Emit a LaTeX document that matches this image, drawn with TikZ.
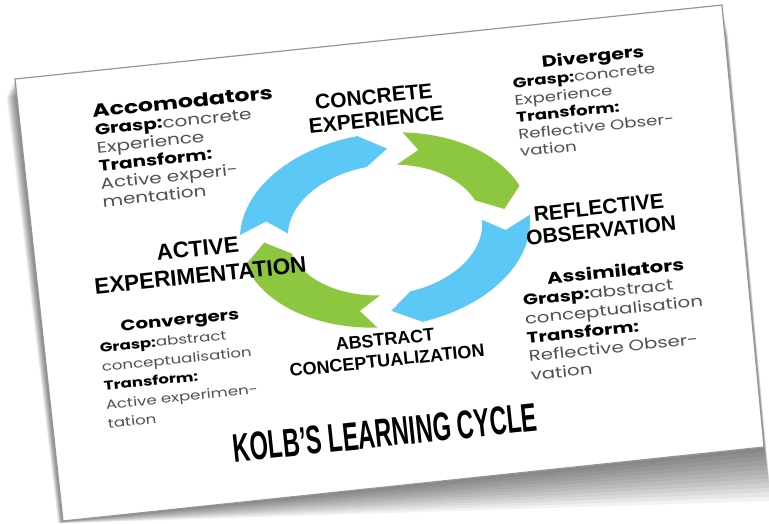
\documentclass[tikz,border=0pt]{standalone}
\usepackage{fontspec}
\setmainfont{Liberation Sans}
\newfontfamily\labfont{Liberation Sans}
\newfontfamily\titlefont{Liberation Sans}[FakeStretch=0.59]
\newfontfamily\geofont{Poppins}[FakeStretch=1.3]
\definecolor{ringblue}{RGB}{92,200,245}
\definecolor{ringgreen}{RGB}{141,198,63}
\definecolor{cardline}{RGB}{150,150,150}
\definecolor{bodygray}{RGB}{80,80,80}
\newcommand\ringseg[3]{%
  \fill[#1] ({#2-3}:97) arc[start angle={#2-3}, end angle={#3+15}, radius=97]
    -- ({#3+3}:81) -- ({#3+15}:65)
    arc[start angle={#3+15}, end angle={#2-3}, radius=65]
    -- ({#2-12}:81) -- cycle;}
\newcommand\bhead[3]{\makebox[#1][c]{\fontsize{#2}{18}\selectfont\bfseries\color{black}#3}}
\newcommand\bl[1]{\textbf{\color{black}#1}}
\tikzset{
  cyclelabel/.style={font=\labfont\bfseries\fontsize{21}{23}\selectfont, text=black, align=center, inner sep=0, rotate=6},
  block/.style={text=bodygray, align=left, inner sep=0, anchor=north west, rotate=6},
}
\begin{document}
\begin{tikzpicture}[x=1pt, y=-1pt]
\useasboundingbox (0,0) rectangle (769,523);
% shadow
\foreach \k in {1,...,12}{
  \fill[black, opacity=0.05] ({15-0.7*\k},{79+1.5*\k}) -- ({722+0.5*\k},{5+2.5*\k}) -- ({764+0.6*\k},{447+4.5*\k}) -- ({63-0.4*\k},{521+0.2*\k}) -- cycle;
}
% card
\draw[cardline, line width=1.2pt, fill=white] (15,79) coordinate (tl) -- (722,5) coordinate (tr) -- (764,447) coordinate (br) -- (63,521) coordinate (bl) -- cycle;
% ring
\begin{scope}[shift={(385,230)}, y=1pt, rotate=6, xscale=1.5]
  \ringseg{ringgreen}{82}{3}
  \ringseg{ringblue}{3}{-94}
  \ringseg{ringgreen}{-94}{-183}
  \ringseg{ringblue}{177}{82}
\end{scope}
% cycle labels
\node[cyclelabel] (ce) at (375,108) {CONCRETE\\EXPERIENCE};
\node[cyclelabel] (ro) at (600,219) {REFLECTIVE\\OBSERVATION};
\node[cyclelabel, font=\labfont\bfseries\fontsize{22.5}{27}\selectfont] (ae) at (199,262) {ACTIVE\\EXPERIMENTATION};
\node[cyclelabel, font=\labfont\bfseries\fontsize{18}{21}\selectfont] (ac) at (386,350) {ABSTRACT\\CONCEPTUALIZATION};
% blocks
\node[block, text width=180pt, font=\geofont\fontsize{15.4}{18}\selectfont] (acc) at (92,104) {\bhead{180pt}{18.2}{Accomodators}\\
  \bl{Grasp:}concrete\\ Experience\\ \bl{Transform:}\\ Active experi-\\ mentation};
\node[block, text width=165pt, font=\geofont\fontsize{14}{17.3}\selectfont] (div) at (510,58) {\bhead{165pt}{15.9}{Divergers}\\
  \bl{Grasp:}concrete\\ Experience\\ \bl{Transform:}\\ Reflective Obser-\\ vation};
\node[block, text width=190pt, font=\geofont\fontsize{15.2}{18.8}\selectfont] (ass) at (520,274) {\bhead{190pt}{16.3}{Assimilators}\\
  \bl{Grasp:}abstract\\ conceptualisation\\ \bl{Transform:}\\ Reflective Obser-\\ vation};
\node[block, text width=165pt, font=\geofont\fontsize{12.8}{19}\selectfont] (con) at (97,323) {\bhead{165pt}{15.2}{Convergers}\\
  \bl{Grasp:}abstract\\ conceptualisation\\ \bl{Transform:}\\ Active experimen-\\ tation};
% title
\node[font=\titlefont\bfseries\fontsize{40}{42}\selectfont, inner sep=0, rotate=6] (title) at (385,433) {KOLB’S LEARNING CYCLE};
\end{tikzpicture}
\end{document}
